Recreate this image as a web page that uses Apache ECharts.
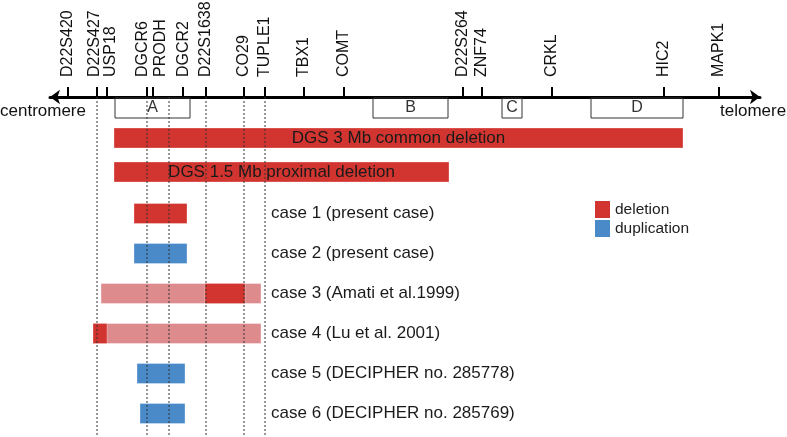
<!DOCTYPE html>
<html><head><meta charset="utf-8">
<script src="https://cdn.jsdelivr.net/npm/echarts@6/dist/echarts.min.js"></script>
<style>html,body{margin:0;padding:0;background:#fff}#c{width:787px;height:437px}</style>
</head><body><div id="c"></div>
<script>
// Marker positions along chromosome 22q11 map (schematic units)
const markerNames = ['D22S420','D22S427','USP18','DGCR6','PRODH','DGCR2','D22S1638','CO29','TUPLE1','TBX1','COMT','D22S264','ZNF74','CRKL','HIC2','MAPK1'];
const markerPos   = [18, 47, 57, 97, 103, 133, 156, 194, 215, 254, 294, 413, 432, 502, 614, 669];
// LCR blocks
const regionNames = ['A','B','C','D'];
const regionStart = [65, 323, 452, 541];
const regionEnd   = [140, 398, 472, 633];
// dotted guide lines
const guidePos = [47, 97, 119, 156, 194, 215];
// rows
const rowNames = ['DGS 3 Mb common deletion','DGS 1.5 Mb proximal deletion','case 1 (present case)','case 2 (present case)','case 3 (Amati et al.1999)','case 4 (Lu et al. 2001)','case 5 (DECIPHER no. 285778)','case 6 (DECIPHER no. 285769)'];
const rowY = [41, 75, 116.5, 156.5, 196.5, 236.5, 276.5, 316.5];
// segments: [row, start, end]
const deletionSegs    = [[0,64,633],[1,64,399],[2,84,137],[4,155,195],[5,43,57]];
const duplicationSegs = [[3,84,137],[6,87,135],[7,90,135]];
const uncertainSegs   = [[4,51,211],[5,43,211]];
const caseLabelX = 221;

// label nudges (pixels) to keep crowded marker names apart
const labelNudge = {D22S427:-2, USP18:4, DGCR6:-4, PRODH:8, DGCR2:1};

const RED = '#d2352f', BLUE = '#4a8ac9', PINK = '#de8b8e';
const FONT = '"Liberation Sans", Arial, sans-serif';

const chart = echarts.init(document.getElementById('c'));

function segData(segs){ return segs.map(s => [s[1], s[2], rowY[s[0]], s[0]]); }
function barRender(color, stroke){
  return function(params, api){
    const s = api.coord([api.value(0), api.value(2)]);
    const e = api.coord([api.value(1), api.value(2)]);
    const h = api.size([0, 20])[1];
    return {type:'rect', shape:{x:s[0], y:s[1]-h/2, width:e[0]-s[0], height:h},
      style:{fill:color, stroke:stroke, lineWidth:1}};
  };
}

chart.setOption({
  animation:false,
  grid:{left:50, right:27, top:97, bottom:0},
  xAxis:{type:'value', position:'top', min:0, max:710,
    splitLine:{show:false},
    axisLine:{show:true, onZero:false, lineStyle:{color:'#000', width:3}, symbol:['arrow','arrow'], symbolSize:[11,10]},
    axisTick:{show:true, customValues:markerPos, length:10, inside:false, lineStyle:{color:'#000', width:2}},
    axisLabel:{show:false}
  },
  yAxis:{type:'value', min:0, max:340, inverse:true, show:false},
  legend:{data:['deletion','duplication'], orient:'vertical', left:590, top:196, itemWidth:15, itemHeight:17, itemGap:2,
    icon:'rect', textStyle:{fontSize:15.5, color:'#222', fontFamily:FONT}},
  graphic:[
    {type:'text', left:0, top:103, style:{text:'centromere', fontSize:17, fill:'#111', fontFamily:FONT}},
    {type:'text', left:720, top:103, style:{text:'telomere', fontSize:17, fill:'#111', fontFamily:FONT}}
  ],
  series:[
    {type:'custom', name:'markers', silent:true, z:6, encode:{x:0, y:1}, clip:false,
      data: markerPos.map(p => [p, 0]),
      renderItem:function(params, api){
        const a = api.coord([api.value(0), 0]);
        const name = markerNames[params.dataIndex];
        return {type:'text', x:a[0] + (labelNudge[name] || 0), y:a[1]-20, rotation:Math.PI/2,
          style:{text:name, fontSize:16, fill:'#111', fontFamily:FONT, align:'left', verticalAlign:'middle'}};
      }},
    {type:'custom', name:'guides', silent:true, z:4, encode:{x:0, y:1},
      data: guidePos.map(p => [p, 0]),
      renderItem:function(params, api){
        const a = api.coord([api.value(0), 0]);
        const b = api.coord([api.value(0), 340]);
        return {type:'line', shape:{x1:a[0], y1:a[1], x2:b[0], y2:b[1]}, style:{stroke:'#333', lineWidth:1, lineDash:[2,2]}};
      }},
    {type:'custom', name:'regions', silent:true, z:3, encode:{x:[0,1], y:2},
      data: regionNames.map((n,i) => [regionStart[i], regionEnd[i], 11, n]),
      renderItem:function(params, api){
        const s = api.coord([api.value(0), 1]);
        const e = api.coord([api.value(1), 21]);
        const name = regionNames[params.dataIndex];
        return {type:'group', children:[
          {type:'rect', shape:{x:s[0], y:s[1], width:e[0]-s[0], height:e[1]-s[1]}, style:{fill:'none', stroke:'#333', lineWidth:1}},
          {type:'text', x:(s[0]+e[0])/2, y:(s[1]+e[1])/2, style:{text:name, fontSize:16, fill:'#333', fontFamily:FONT, align:'center', verticalAlign:'middle'}}
        ]};
      }},
    {type:'custom', name:'uncertain', z:2, encode:{x:[0,1], y:2}, itemStyle:{color:PINK},
      data: segData(uncertainSegs), renderItem: barRender(PINK, 'rgba(255,255,255,0.35)')},
    {type:'custom', name:'deletion', z:3, encode:{x:[0,1], y:2}, itemStyle:{color:RED},
      data: segData(deletionSegs), renderItem: barRender(RED, 'rgba(255,255,255,0.3)')},
    {type:'custom', name:'duplication', z:3, encode:{x:[0,1], y:2}, itemStyle:{color:BLUE},
      data: segData(duplicationSegs), renderItem: barRender(BLUE, 'rgba(255,255,255,0.3)')},
    {type:'custom', name:'rowLabels', silent:true, z:6, encode:{x:0, y:1},
      data: rowNames.map((n,i) => {
        if (i < 2) { const seg = deletionSegs[i]; return [(seg[1]+seg[2])/2, rowY[i]]; }
        return [caseLabelX, rowY[i]];
      }),
      renderItem:function(params, api){
        const i = params.dataIndex;
        const p = api.coord([api.value(0), api.value(1)]);
        return {type:'text', x:p[0], y:p[1], style:{text:rowNames[i], fontSize:17, fill:'#1a1a1a', fontFamily:FONT,
          align: i < 2 ? 'center' : 'left', verticalAlign:'middle'}};
      }}
  ]
});
</script></body></html>
